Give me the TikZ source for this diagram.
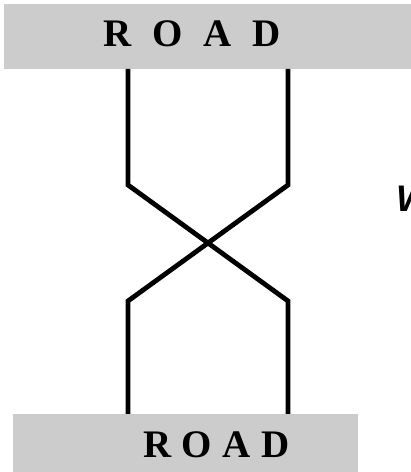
\documentclass[tikz,border=0pt]{standalone}
\usepackage{fontspec}
\setmainfont{Liberation Serif}
\newfontfamily\wfont{Liberation Sans}
\definecolor{roadgray}{HTML}{CCCCCC}
\begin{document}
\begin{tikzpicture}[x=1pt,y=1pt,
  band/.style={fill=roadgray,draw=none,inner sep=0pt,minimum height=#1},
  roadtext/.style={anchor=base west,inner sep=0pt,font=\fontsize{39}{39}\selectfont\bfseries},
  track/.style={line width=4.8pt,line join=miter}]
\useasboundingbox (0,0) rectangle (411,472);
\fill[white] (0,0) rectangle (411,472);
% bands
\node[band=65pt,minimum width=407pt] (topband) at (207.5,435.5) {};
\node[band=58pt,minimum width=345pt] (botband) at (185.5,29) {};
% texts
\node[roadtext] (toptext) at (103,425) {R\hspace{21pt}O\hspace{21pt}A\hspace{21pt}D};
\node[roadtext] (bottext) at (143,15) {R\hspace{10.5pt}O\hspace{10.5pt}A\hspace{10.5pt}D};
\node[anchor=base west,inner sep=0pt,font=\wfont\fontsize{37}{37}\selectfont\bfseries\itshape] (wtext) at (396,260) {W};
% track points
\coordinate (lt) at (128,403);
\coordinate (lk) at (128,287);
\coordinate (rt) at (288,403);
\coordinate (rk) at (288,287);
\coordinate (lk2) at (128,171);
\coordinate (lb) at (128,58);
\coordinate (rk2) at (288,171);
\coordinate (rb) at (288,58);
\draw[track] (lt) -- (lk) -- (rk2) -- (rb);
\draw[track] (rt) -- (rk) -- (lk2) -- (lb);
\end{tikzpicture}
\end{document}
